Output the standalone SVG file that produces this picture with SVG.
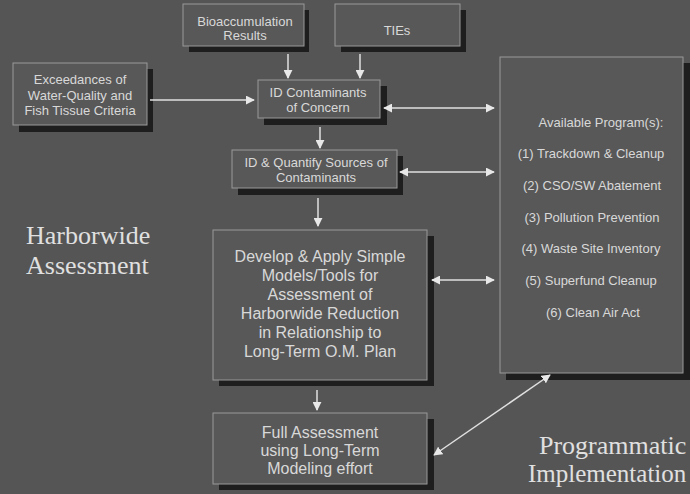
<svg xmlns="http://www.w3.org/2000/svg" width="690" height="494" viewBox="0 0 690 494">
<defs>
<marker id="ah" viewBox="0 0 10 10" refX="9" refY="5" markerWidth="9" markerHeight="9" markerUnits="userSpaceOnUse" orient="auto-start-reverse">
<path d="M0,0 L10,5 L0,10 z" fill="#e8e8e8"/>
</marker>
</defs>
<style>
.bg{fill:#555}
.box{fill:#585858;stroke:#999;stroke-width:1}
.sh{fill:#1e1e1e}
.t{font-family:"Liberation Sans",Arial,sans-serif;fill:#d8d8d8;text-anchor:middle}
.s{font-size:13px}
.m{font-size:16px}
.big{font-family:"Liberation Serif","Times New Roman",serif;fill:#e0e0e0;font-size:26px}
.c{stroke:#e0e0e0;stroke-width:1.5;fill:none}
</style>
<rect class="bg" x="0" y="0" width="690" height="494"/>

<g id="bioaccumulation">
<rect class="sh" x="189" y="10" width="120" height="42"/>
<rect class="box" x="183" y="4" width="121" height="42"/>
<text class="t s" x="245" y="26">Bioaccumulation</text>
<text class="t s" x="245" y="40">Results</text>
</g>
<g id="ties">
<rect class="sh" x="341" y="10" width="125" height="42"/>
<rect class="box" x="335" y="4" width="125" height="42"/>
<text class="t s" x="397" y="35">TIEs</text>
</g>
<g id="exceedances">
<rect class="sh" x="19" y="69" width="134" height="63"/>
<rect class="box" x="13" y="63" width="134" height="62"/>
<text class="t s" x="80" y="84">Exceedances of</text>
<text class="t s" x="80" y="100">Water-Quality and</text>
<text class="t s" x="80" y="115">Fish Tissue Criteria</text>
</g>
<g id="id-contaminants">
<rect class="sh" x="264" y="86" width="123" height="39"/>
<rect class="box" x="258" y="80" width="122" height="38"/>
<text class="t s" x="318" y="97">ID Contaminants</text>
<text class="t s" x="318" y="112">of Concern</text>
</g>
<g id="id-quantify">
<rect class="sh" x="238" y="156" width="165" height="39"/>
<rect class="box" x="232" y="150" width="165" height="38"/>
<text class="t s" x="316" y="167">ID &amp; Quantify Sources of</text>
<text class="t s" x="316" y="182">Contaminants</text>
</g>
<g id="develop">
<rect class="sh" x="219" y="236" width="215" height="150"/>
<rect class="box" x="213" y="230" width="214" height="150"/>
<text class="t m" x="320" y="262">Develop &amp; Apply Simple</text>
<text class="t m" x="320" y="281">Models/Tools for</text>
<text class="t m" x="320" y="300">Assessment of</text>
<text class="t m" x="320" y="319">Harborwide Reduction</text>
<text class="t m" x="320" y="338">in Relationship to</text>
<text class="t m" x="320" y="357">Long-Term O.M. Plan</text>
</g>
<g id="full-assessment">
<rect class="sh" x="219" y="419" width="215" height="71"/>
<rect class="box" x="213" y="413" width="214" height="71"/>
<text class="t m" x="320" y="438">Full Assessment</text>
<text class="t m" x="320" y="456">using Long-Term</text>
<text class="t m" x="320" y="474">Modeling effort</text>
</g>
<g id="programs">
<rect class="sh" x="506" y="63" width="184" height="317"/>
<rect class="box" x="500" y="57" width="183" height="316"/>
<text class="t s" x="601" y="127">Available Program(s):</text>
<text class="t s" x="591" y="158">(1) Trackdown &amp; Cleanup</text>
<text class="t s" x="592" y="190">(2) CSO/SW Abatement</text>
<text class="t s" x="592" y="222">(3)  Pollution Prevention</text>
<text class="t s" x="591" y="253">(4)  Waste Site Inventory</text>
<text class="t s" x="591" y="285">(5)  Superfund Cleanup</text>
<text class="t s" x="593" y="317">(6)  Clean Air Act</text>
</g>
<g id="harborwide-label">
<text class="big" x="26" y="244">Harborwide</text>
<text class="big" x="26" y="274">Assessment</text>
</g>
<g id="programmatic-label">
<text class="big" x="539" y="454">Programmatic</text>
<text class="big" x="528" y="482" style="font-size:25px">Implementation</text>
</g>

<g id="connectors">
<line class="c" x1="288" y1="54" x2="288" y2="78" marker-end="url(#ah)"/>
<line class="c" x1="360" y1="54" x2="360" y2="78" marker-end="url(#ah)"/>
<line class="c" x1="150" y1="100" x2="254" y2="100" marker-end="url(#ah)"/>
<line class="c" x1="384" y1="108" x2="494" y2="108" marker-start="url(#ah)" marker-end="url(#ah)"/>
<line class="c" x1="320" y1="127" x2="320" y2="148" marker-end="url(#ah)"/>
<line class="c" x1="400" y1="172" x2="494" y2="172" marker-start="url(#ah)" marker-end="url(#ah)"/>
<line class="c" x1="318" y1="198" x2="318" y2="226" marker-end="url(#ah)"/>
<line class="c" x1="432" y1="280" x2="494" y2="280" marker-start="url(#ah)" marker-end="url(#ah)"/>
<line class="c" x1="317" y1="390" x2="317" y2="410" marker-end="url(#ah)"/>
<line class="c" x1="434" y1="455" x2="550" y2="375" marker-start="url(#ah)" marker-end="url(#ah)"/>
</g>
</svg>
